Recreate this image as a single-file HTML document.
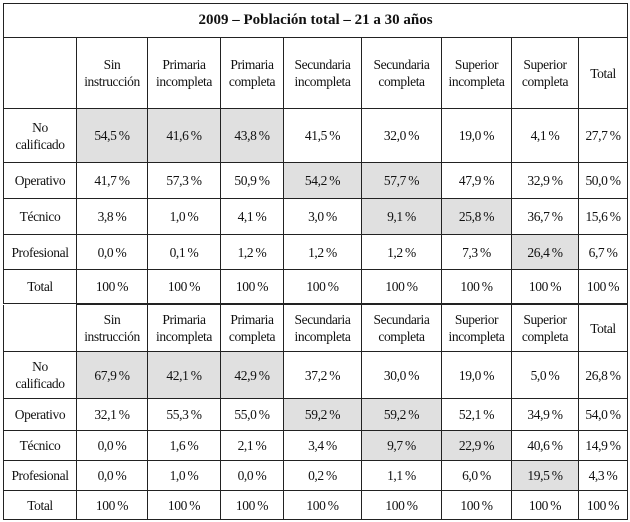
<!DOCTYPE html>
<html><head><meta charset="utf-8"><style>
body{margin:0;width:630px;height:522px;background:#fff;overflow:hidden;font-family:"Liberation Serif",serif;}
table{position:absolute;left:3px;border-collapse:collapse;table-layout:fixed;width:624px;font-size:13.5px;letter-spacing:-0.4px;color:#111;}
td{border:1.3px solid #222;text-align:center;vertical-align:middle;padding:0;line-height:17px;}
.g{background:#e0e0e0;}
.t{font-weight:bold;font-size:15px;letter-spacing:0;}
</style></head><body>
<table style="top:3px">
<colgroup><col style="width:73px"><col style="width:71px"><col style="width:73px"><col style="width:63px"><col style="width:78px"><col style="width:80px"><col style="width:70px"><col style="width:67px"><col style="width:49px"></colgroup>
<tr style="height:34px"><td colspan="9" class="t">2009 – Población total – 21 a 30 años</td></tr>
<tr style="height:71px"><td></td><td>Sin<br>instrucción</td><td>Primaria<br>incompleta</td><td>Primaria<br>completa</td><td>Secundaria<br>incompleta</td><td>Secundaria<br>completa</td><td>Superior<br>incompleta</td><td>Superior<br>completa</td><td>Total</td></tr>
<tr style="height:54px"><td>No<br>calificado</td><td class="g">54,5&#8201;%</td><td class="g">41,6&#8201;%</td><td class="g">43,8&#8201;%</td><td>41,5&#8201;%</td><td>32,0&#8201;%</td><td>19,0&#8201;%</td><td>4,1&#8201;%</td><td>27,7&#8201;%</td></tr>
<tr style="height:36px"><td>Operativo</td><td>41,7&#8201;%</td><td>57,3&#8201;%</td><td>50,9&#8201;%</td><td class="g">54,2&#8201;%</td><td class="g">57,7&#8201;%</td><td>47,9&#8201;%</td><td>32,9&#8201;%</td><td>50,0&#8201;%</td></tr>
<tr style="height:36px"><td>Técnico</td><td>3,8&#8201;%</td><td>1,0&#8201;%</td><td>4,1&#8201;%</td><td>3,0&#8201;%</td><td class="g">9,1&#8201;%</td><td class="g">25,8&#8201;%</td><td>36,7&#8201;%</td><td>15,6&#8201;%</td></tr>
<tr style="height:35px"><td>Profesional</td><td>0,0&#8201;%</td><td>0,1&#8201;%</td><td>1,2&#8201;%</td><td>1,2&#8201;%</td><td>1,2&#8201;%</td><td>7,3&#8201;%</td><td class="g">26,4&#8201;%</td><td>6,7&#8201;%</td></tr>
<tr style="height:34px"><td>Total</td><td>100&#8201;%</td><td>100&#8201;%</td><td>100&#8201;%</td><td>100&#8201;%</td><td>100&#8201;%</td><td>100&#8201;%</td><td>100&#8201;%</td><td>100&#8201;%</td></tr>
</table>
<table style="top:304px">
<colgroup><col style="width:73px"><col style="width:71px"><col style="width:73px"><col style="width:63px"><col style="width:78px"><col style="width:80px"><col style="width:70px"><col style="width:67px"><col style="width:49px"></colgroup>
<tr style="height:47px"><td style="border-top:none"></td><td>Sin<br>instrucción</td><td>Primaria<br>incompleta</td><td>Primaria<br>completa</td><td>Secundaria<br>incompleta</td><td>Secundaria<br>completa</td><td>Superior<br>incompleta</td><td>Superior<br>completa</td><td>Total</td></tr>
<tr style="height:47px"><td>No<br>calificado</td><td class="g">67,9&#8201;%</td><td class="g">42,1&#8201;%</td><td class="g">42,9&#8201;%</td><td>37,2&#8201;%</td><td>30,0&#8201;%</td><td>19,0&#8201;%</td><td>5,0&#8201;%</td><td>26,8&#8201;%</td></tr>
<tr style="height:32px"><td>Operativo</td><td>32,1&#8201;%</td><td>55,3&#8201;%</td><td>55,0&#8201;%</td><td class="g">59,2&#8201;%</td><td class="g">59,2&#8201;%</td><td>52,1&#8201;%</td><td>34,9&#8201;%</td><td>54,0&#8201;%</td></tr>
<tr style="height:30px"><td>Técnico</td><td>0,0&#8201;%</td><td>1,6&#8201;%</td><td>2,1&#8201;%</td><td>3,4&#8201;%</td><td class="g">9,7&#8201;%</td><td class="g">22,9&#8201;%</td><td>40,6&#8201;%</td><td>14,9&#8201;%</td></tr>
<tr style="height:30px"><td>Profesional</td><td>0,0&#8201;%</td><td>1,0&#8201;%</td><td>0,0&#8201;%</td><td>0,2&#8201;%</td><td>1,1&#8201;%</td><td>6,0&#8201;%</td><td class="g">19,5&#8201;%</td><td>4,3&#8201;%</td></tr>
<tr style="height:29px"><td>Total</td><td>100&#8201;%</td><td>100&#8201;%</td><td>100&#8201;%</td><td>100&#8201;%</td><td>100&#8201;%</td><td>100&#8201;%</td><td>100&#8201;%</td><td>100&#8201;%</td></tr>
</table>
</body></html>
